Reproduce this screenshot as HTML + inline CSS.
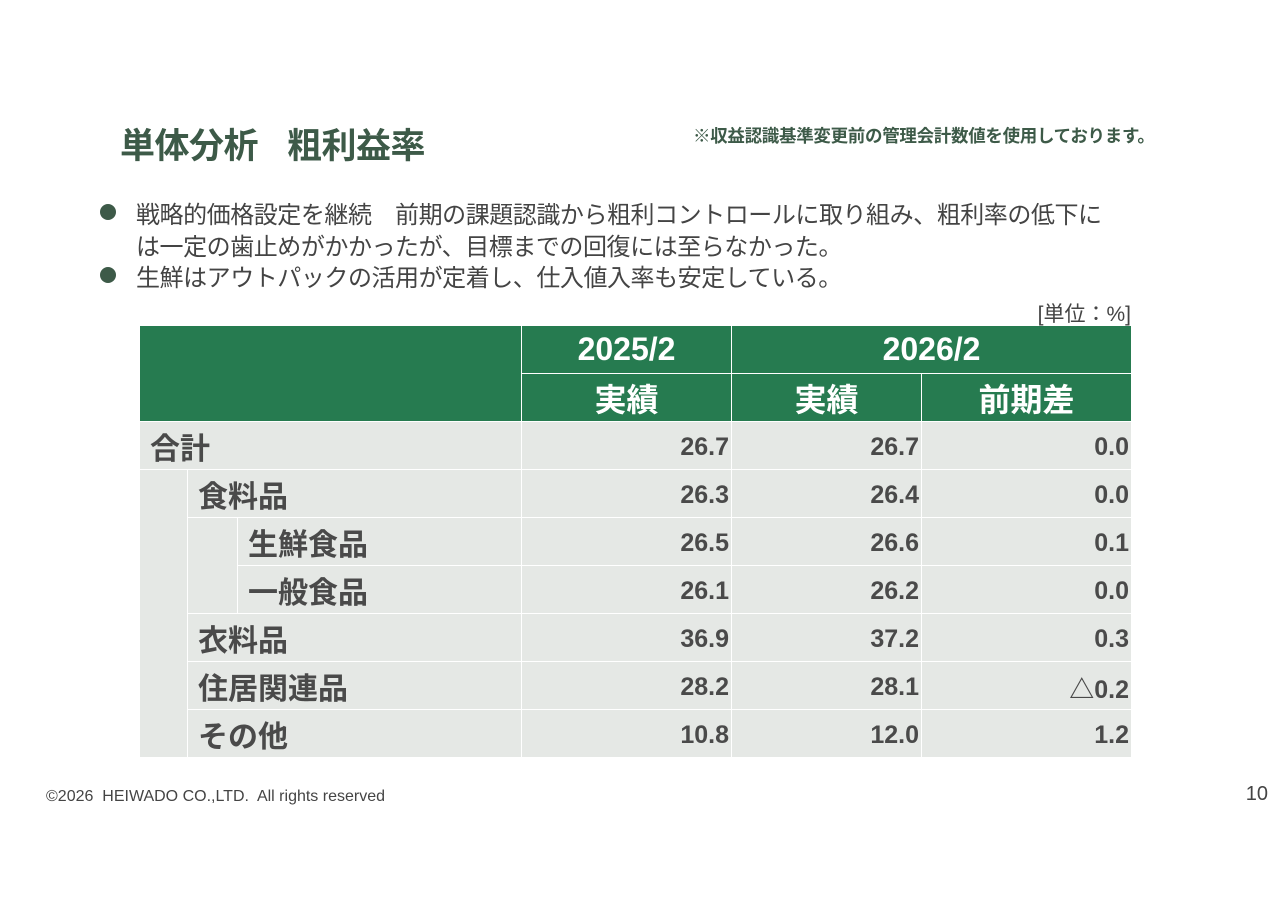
<!DOCTYPE html>
<html><head><meta charset="utf-8">
<style>
*{margin:0;padding:0;box-sizing:border-box}
body{width:1280px;height:905px;background:#fff;position:relative;overflow:hidden;font-family:"Liberation Sans","Noto Sans CJK JP",sans-serif;color:#444}
.a{position:absolute;white-space:nowrap}
.title{top:118px;font-size:35px;font-weight:bold;color:#3d5a48;letter-spacing:-0.5px}
.note{left:693px;top:123px;font-size:17.5px;font-weight:bold;color:#3d5a48;letter-spacing:-0.3px}
.bul{left:136px;font-size:24px;color:#444;letter-spacing:-0.45px}
.dot{width:16px;height:16px;border-radius:50%;background:#3d5a48;left:100px}
.cell{position:absolute;font-weight:bold;font-size:25px;color:#4a4a4a;display:flex;align-items:center}
.h{background:#267b50;color:#fff;justify-content:center;font-size:32px}
.d{background:#e5e8e5;justify-content:flex-end;padding-right:2px;padding-top:4px}
.l{background:#e5e8e5;font-size:30px;padding-left:10px}
</style></head><body>
<div class="a title" style="left:120px">単体分析</div>
<div class="a title" style="left:287px">粗利益率</div>
<div class="a note">※収益認識基準変更前の管理会計数値を使用しております。</div>
<div class="a dot" style="top:204px"></div>
<div class="a bul" style="top:195px">戦略的価格設定を継続　前期の課題認識から粗利コントロールに取り組み、粗利率の低下に</div>
<div class="a bul" style="top:227px">は一定の歯止めがかかったが、目標までの回復には至らなかった。</div>
<div class="a dot" style="top:267px"></div>
<div class="a bul" style="top:258px">生鮮はアウトパックの活用が定着し、仕入値入率も安定している。</div>
<div class="a" style="right:149px;top:298px;font-size:21px;color:#444">[単位：%]</div>
<div id="t"></div>
<div class="a" style="left:46px;top:788px;font-size:16px;color:#444">©2026&nbsp; HEIWADO CO.,LTD.&nbsp; All rights reserved</div>
<div class="a" style="right:12px;top:783px;font-size:20px;color:#444">10</div>
<script>
const labels=["合計","食料品","生鮮食品","一般食品","衣料品","住居関連品","その他"];
const indent=[0,1,2,2,1,1,1];
const prev=["26.7","26.3","26.5","26.1","36.9","28.2","10.8"];
const curr=["26.7","26.4","26.6","26.2","37.2","28.1","12.0"];
const diff=["0.0","0.0","0.1","0.0","0.3","△0.2","1.2"];
const t=document.getElementById('t');
function c(cls,x,y,w,h,txt,name){const e=document.createElement('div');e.className='cell '+cls;
e.style.left=x+'px';e.style.top=y+'px';e.style.width=w+'px';e.style.height=h+'px';e.textContent=txt;


t.appendChild(e);}
c('h',140,326,381,95,'','header-blank');
c('h',522,326,209,47,'2025/2','header-2025');
c('h',732,326,399,47,'2026/2','header-2026');
c('h',522,374,209,47,'実績','header-2025-actual');
c('h',732,374,189,47,'実績','header-2026-actual');
c('h',922,374,209,47,'前期差','header-diff');
const lx=[140,188,238];
for(let k=0;k<2;k++){let i=0;while(i<labels.length){if(indent[i]>k){let j=i;while(j+1<labels.length&&indent[j+1]>k)j++;
c('l',lx[k],422+i*48,lx[k+1]-lx[k]-1,(j-i+1)*48-1,'','indent-cell');i=j+1;}else i++;}}
labels.forEach((lb,i)=>{const y=422+i*48;
const x=lx[indent[i]];
c('l',x,y,521-x,47,lb,'row-label');
c('d',522,y,209,47,prev[i],'value-2025');
c('d',732,y,189,47,curr[i],'value-2026');
c('d',922,y,209,47,diff[i],'value-diff');});
</script>
</body></html>
